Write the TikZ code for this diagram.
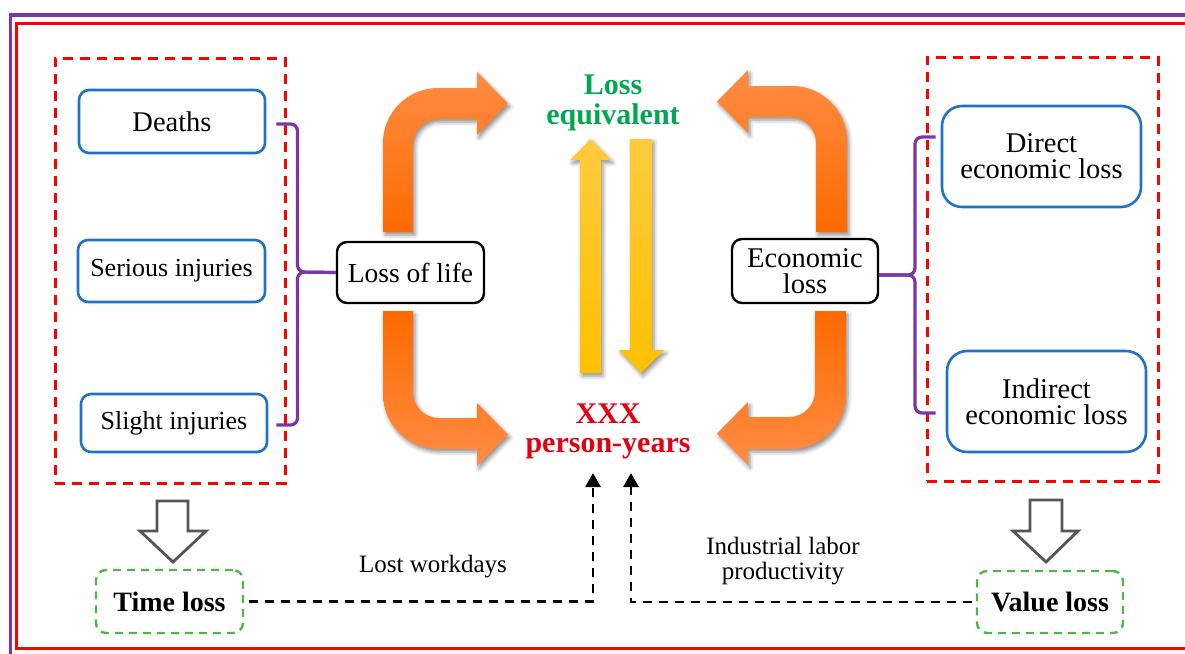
\documentclass[tikz,border=0pt]{standalone}
\usepackage{fontspec}
\setmainfont{Liberation Serif}
\usetikzlibrary{arrows.meta,shadows,shadows.blur,calc}

\definecolor{framepurple}{HTML}{7B35A8}
\definecolor{framered}{HTML}{FF0000}
\definecolor{boxblue}{HTML}{1F72C6}
\definecolor{dashgreen}{HTML}{4DB848}
\definecolor{txtgreen}{HTML}{00A84F}
\definecolor{txtred}{HTML}{E3000F}
\definecolor{orangelight}{HTML}{FF8C44}
\definecolor{orangedark}{HTML}{FF6A00}
\definecolor{yellowlight}{HTML}{FFCB3D}
\definecolor{yellowdark}{HTML}{FFC000}
\definecolor{hollowgray}{HTML}{555555}

\newcommand\fsz[2]{\fontsize{#1}{#2}\selectfont}

\begin{document}
\begin{tikzpicture}[x=1pt,y=-1pt,
  bluebox/.style={draw=boxblue, line width=2.6pt, rounded corners=10pt, fill=white,
    align=center, inner sep=0pt},
  blackbox/.style={draw=black, line width=2.4pt, rounded corners=10pt, fill=white,
    align=center, inner sep=0pt},
  greenbox/.style={draw=dashgreen, line width=2.4pt, dash pattern=on 8pt off 6pt,
    rounded corners=10pt, align=center, inner sep=0pt},
  groupbox/.style={draw=framered, line width=3pt, dash pattern=on 10pt off 7pt,
    inner sep=0pt},
  bracepen/.style={draw=framepurple, line width=3.2pt, rounded corners=7pt},
  flowdash/.style={draw=black, line width=2.8pt, dash pattern=on 9pt off 7pt,
    -{Triangle[width=15pt,length=14pt]}},
  hollowarrow/.style={draw=hollowgray, line width=2.8pt, fill=white, line join=miter},
  softshadow/.style={blur shadow={shadow xshift=2pt, shadow yshift=-3pt,
    shadow blur radius=4pt, shadow opacity=45}},
  orangedown/.style={softshadow, top color=orangelight, bottom color=orangedark},
  orangeup/.style={softshadow, top color=orangedark, bottom color=orangelight},
  yellowshaft/.style={softshadow, top color=yellowlight, bottom color=yellowdark},
  centertext/.style={align=center, inner sep=0pt}
]
\useasboundingbox (0,0) rectangle (1185,653);
\clip (0,0) rectangle (1185,653);

% outer double frame
\draw[framepurple, line width=3.5pt] (1195,15) -- (10.5,15) -- (10.5,665);
\draw[framered, line width=3pt] (1195,23.5) -- (16,23.5) -- (16,648) -- (1195,648);

% grouping frames
\node[groupbox, minimum width=230pt, minimum height=425pt] (leftgroup) at (170,270.5) {};
\node[groupbox, minimum width=231pt, minimum height=424pt] (rightgroup) at (1042.5,269) {};

% casualty categories
\node[bluebox, minimum width=186pt, minimum height=63pt, font=\fsz{28.5}{24}] (deaths) at (172,121.5) {Deaths};
\node[bluebox, minimum width=187pt, minimum height=62pt, font=\fsz{26}{24}] (serious) at (171.5,271) {Serious injuries};
\node[bluebox, minimum width=186pt, minimum height=58pt, font=\fsz{26}{24}] (slight) at (174,423) {Slight injuries};

% economic categories
\node[bluebox, rounded corners=20pt, minimum width=199pt, minimum height=101pt, font=\fsz{28.5}{26}] (direct) at (1041.5,156.5) {Direct\\economic loss};
\node[bluebox, rounded corners=20pt, minimum width=199pt, minimum height=101pt, font=\fsz{28.5}{26}] (indirect) at (1046.5,401.5) {Indirect\\economic loss};

% summary boxes
\node[blackbox, minimum width=147pt, minimum height=61pt, font=\fsz{27.5}{24}] (life) at (410.5,272.5) {Loss of life};
\node[blackbox, minimum width=146pt, minimum height=64pt, font=\fsz{28.5}{26}] (econ) at (805,271) {Economic\\loss};

% braces
\coordinate (lspine) at (297.5,272);
\coordinate (rspine) at (915,275);
\draw[bracepen] ([xshift=10pt,yshift=-2.5pt]deaths.east) -| (lspine) -- (life.west);
\draw[bracepen] ([xshift=8pt,yshift=-2pt]slight.east) -| (lspine) -- (life.west);
\draw[bracepen] ([xshift=-5pt,yshift=19.5pt]direct.west) -| (rspine) -- ([yshift=-4pt]econ.east);
\draw[bracepen] ([xshift=-10pt,yshift=-11.5pt]indirect.west) -| (rspine) -- ([yshift=-4pt]econ.east);

% bent orange arrows
\path[orangedown] (383,232) -- (383,143) .. controls (383,112.6) and (407.6,88) .. (438,88)
  -- (477,88) -- (477,72) -- (508,103.5) -- (477,135) -- (477,119) -- (439,119)
  .. controls (424.6,119) and (413,130.6) .. (413,145) -- (413,232) -- cycle;
\path[orangedown] (847,232) -- (847,141) .. controls (847,110.6) and (822.4,86) .. (792,86)
  -- (748,86) -- (748,70) -- (717,101.5) -- (748,133) -- (748,117) -- (790,117)
  .. controls (804.4,117) and (816,128.6) .. (816,143) -- (816,232) -- cycle;
\path[orangeup] (383,311) -- (383,394) .. controls (383,424.4) and (407.6,449) .. (438,449)
  -- (477,449) -- (477,466) -- (508,434.5) -- (477,403) -- (477,418) -- (439,418)
  .. controls (424.6,418) and (413,406.4) .. (413,392) -- (413,311) -- cycle;
\path[orangeup] (846,311) -- (846,394) .. controls (846,424.4) and (821.4,449) .. (791,449)
  -- (748,449) -- (748,465) -- (717,433.5) -- (748,402) -- (748,417) -- (789,417)
  .. controls (803.4,417) and (815,405.4) .. (815,391) -- (815,311) -- cycle;

% yellow two-way arrows
\path[yellowshaft] (580,373) -- (580,160) -- (570,160) -- (590.5,139) -- (611,160)
  -- (601,160) -- (601,373) -- cycle;
\path[yellowshaft] (630,139) -- (652,139) -- (652,350) -- (664,350) -- (641,373)
  -- (619,350) -- (630,350) -- cycle;

% central results
\node[centertext, font=\bfseries\fsz{30}{30}, text=txtgreen] (equiv) at (613,103) {Loss\\equivalent};
\node[centertext, font=\bfseries\fsz{30}{29}, text=txtred] (pyears) at (608,431) {XXX\\person-years};

% hollow arrows to the bottom boxes
\draw[hollowarrow] (157,501) -- (188,501) -- (188,531) -- (206,531) -- (173,562)
  -- (140,531) -- (157,531) -- cycle;
\draw[hollowarrow] (1030,500) -- (1062,500) -- (1062,531) -- (1078,531) -- (1046,562)
  -- (1013,531) -- (1030,531) -- cycle;

% bottom boxes
\node[greenbox, minimum width=147pt, minimum height=63pt, font=\bfseries\fsz{28}{24}] (timeloss) at (169.5,601.5) {Time loss};
\node[greenbox, minimum width=146pt, minimum height=62pt, font=\bfseries\fsz{28}{24}] (valueloss) at (1050,602) {Value loss};

% dashed links into the result
\coordinate (tipL) at (593,473);
\coordinate (tipR) at (631,473);
\draw[flowdash] ([xshift=5pt]timeloss.east) -| (tipL);
\draw[flowdash] ([xshift=-4pt]valueloss.west) -| (tipR);

\node[font=\fsz{25}{24}, anchor=base, inner sep=0pt] (lostlbl) at (433,572) {Lost workdays};
\node[centertext, font=\fsz{25}{25}] (prodlbl) at (783,561) {Industrial labor\\productivity};
\end{tikzpicture}
\end{document}
